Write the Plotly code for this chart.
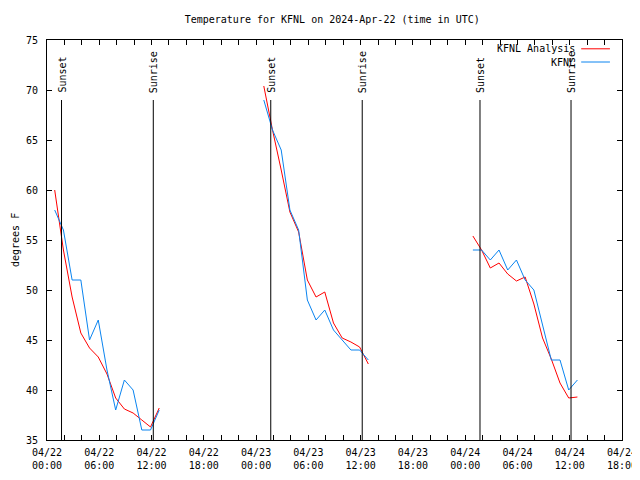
import plotly.graph_objects as go
import datetime as _dt

# ---------------- data ----------------
days = ["2024-04-22", "2024-04-23", "2024-04-24"]
hours = ["00:53", "01:53", "02:53", "03:53", "04:53", "05:53", "06:53",
         "07:53", "08:53", "09:53", "10:53", "11:53", "12:53"]

analysis_day1 = [60.0, 54.0, 49.3, 45.7, 44.2, 43.3, 41.6, 39.2, 38.1, 37.7, 37.0, 36.3, 38.2]
analysis_day2 = [70.4, 66.0, 62.0, 57.8, 55.8, 51.0, 49.3, 49.8, 46.7, 45.2, 44.8, 44.3, 42.6]
analysis_day3 = [55.4, 54.0, 52.2, 52.7, 51.6, 50.9, 51.3, 48.6, 45.2, 43.1, 40.7, 39.2, 39.3]

obs_day1 = [58, 56, 51, 51, 45, 47, 42, 38, 41, 40, 36, 36, 38]
obs_day2 = [69, 66, 64, 58, 56, 49, 47, 48, 46, 45, 44, 44, 43]
obs_day3 = [54, 54, 53, 54, 52, 53, 51, 50, 46.5, 43, 43, 40, 41]

sun_labels = ["Sunset", "Sunrise", "Sunset", "Sunrise", "Sunset", "Sunrise"]
sun_times = ["2024-04-22 01:40", "2024-04-22 12:12", "2024-04-23 01:41",
             "2024-04-23 12:11", "2024-04-24 01:42", "2024-04-24 12:09"]

tick_times = ["2024-04-22 00:00", "2024-04-22 06:00", "2024-04-22 12:00", "2024-04-22 18:00",
              "2024-04-23 00:00", "2024-04-23 06:00", "2024-04-23 12:00", "2024-04-23 18:00",
              "2024-04-24 00:00", "2024-04-24 06:00", "2024-04-24 12:00", "2024-04-24 18:00"]
tick_labels = ["04/22<br>00:00", "04/22<br>06:00", "04/22<br>12:00", "04/22<br>18:00",
               "04/23<br>00:00", "04/23<br>06:00", "04/23<br>12:00", "04/23<br>18:00",
               "04/24<br>00:00", "04/24<br>06:00", "04/24<br>12:00", "04/24<br>18:00"]
y_ticks = [35, 40, 45, 50, 55, 60, 65, 70, 75]

series_names = ["KFNL Analysis", "KFNL"]
RED = "#ff0000"
BLUE = "#0a84f0"
FONT = "DejaVu Sans Mono"

# ------------- assemble ---------------
def join(day_vals):
    xs, ys = [], []
    for d, vals in zip(days, day_vals):
        xs += [f"{d} {h}" for h in hours] + [None]
        ys += list(vals) + [None]
    return xs, ys

ax, ay = join([analysis_day1, analysis_day2, analysis_day3])
ox, oy = join([obs_day1, obs_day2, obs_day3])

fig = go.Figure()
fig.add_trace(go.Scatter(x=ax, y=ay, mode="lines", name=series_names[0],
                         line=dict(color=RED, width=1), connectgaps=False))
fig.add_trace(go.Scatter(x=ox, y=oy, mode="lines", name=series_names[1],
                         line=dict(color=BLUE, width=1), connectgaps=False))

for lab, t in zip(sun_labels, sun_times):
    fig.add_shape(type="line", xref="x", yref="y", x0=t, x1=t, y0=35, y1=69,
                  line=dict(color="black", width=1))
    fig.add_annotation(x=t, y=69, xref="x", yref="y", text=lab, textangle=-90,
                       showarrow=False, xanchor="center", yanchor="bottom", yshift=5,
                       font=dict(family=FONT, size=10, color="black"))

# custom legend (text right aligned, sample on right)
leg_y = [0.978, 0.945]
for name, col, yy in zip(series_names, [RED, BLUE], leg_y):
    fig.add_annotation(x=0.921, y=yy, xref="paper", yref="paper", text=name,
                       showarrow=False, xanchor="right", yanchor="middle",
                       font=dict(family=FONT, size=10, color="black"))
    fig.add_shape(type="line", xref="paper", yref="paper", x0=0.929, x1=0.979,
                  y0=yy, y1=yy, line=dict(color=col, width=1))

# y-axis title as annotation
fig.add_annotation(x=0, y=0.5, xref="paper", yref="paper", text="degrees F",
                   textangle=-90, showarrow=False, xanchor="center", yanchor="middle",
                   xshift=-32, font=dict(family=FONT, size=10, color="black"))

# x ticks every 2 hours, labels every 6 hours
t0 = _dt.datetime(2024, 4, 22, 0, 0)
all_ticks = [(t0 + _dt.timedelta(hours=2 * i)).strftime("%Y-%m-%d %H:%M") for i in range(34)]
lab_map = dict(zip(tick_times, tick_labels))
all_text = [lab_map.get(t, "") for t in all_ticks]

fig.update_layout(
    width=632, height=472,
    margin=dict(l=39, r=18, t=32, b=40, autoexpand=False),
    paper_bgcolor="white", plot_bgcolor="white",
    showlegend=False,
    font=dict(family=FONT, size=10, color="black"),
    title=dict(text="Temperature for KFNL on 2024-Apr-22 (time in UTC)",
               x=0.513, xanchor="center", y=0.9746, yanchor="middle",
               font=dict(family=FONT, size=10, color="black")),
    xaxis=dict(type="date", range=["2024-04-22 00:00", "2024-04-24 18:00"],
               tickmode="array", tickvals=all_ticks, ticktext=all_text,
               ticks="inside", ticklen=5, tickcolor="black", tickwidth=1,
               showline=True, linecolor="black", linewidth=1, mirror="ticks",
               showgrid=False, zeroline=False, automargin=False,
               ticklabelstandoff=3,
               tickfont=dict(family=FONT, size=10, color="black")),
    yaxis=dict(range=[35, 75], tickmode="array", tickvals=y_ticks,
               ticktext=[str(v) for v in y_ticks],
               ticks="inside", ticklen=5, tickcolor="black", tickwidth=1,
               showline=True, linecolor="black", linewidth=1, mirror="ticks",
               showgrid=False, zeroline=False, automargin=False,
               ticklabelstandoff=6,
               tickfont=dict(family=FONT, size=10, color="black")),
)

fig.write_html("out.html")
